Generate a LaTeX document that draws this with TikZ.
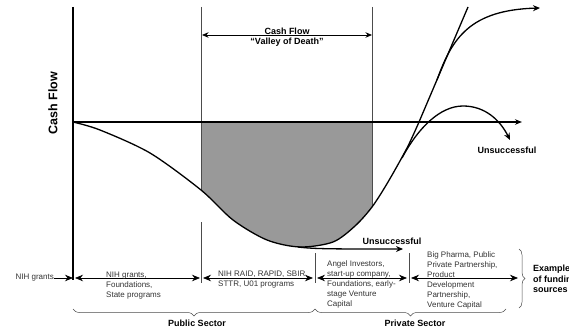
\documentclass[tikz,border=0pt]{standalone}
\usepackage{fontspec}
\setmainfont{Liberation Sans}
\usetikzlibrary{arrows.meta,decorations.pathreplacing}
\definecolor{valleygray}{gray}{0.6}
\begin{document}
\begin{tikzpicture}[x=1pt,y=-1pt,
  axis/.style={line width=1.3pt},
  curvestyle/.style={line width=1.3pt},
  guide/.style={line width=0.5pt,black!70},
  bigtip/.tip={Stealth[length=8pt,width=6.5pt]},
  fundarrow/.style={line width=0.8pt,bigtip-bigtip},
  onearrow/.style={line width=0.8pt,-bigtip},
  curvearrow/.style={line width=1.3pt,-{Stealth[length=7pt,width=6pt]}},
  smalltext/.style={font=\fontsize{8}{9.8}\selectfont,text=black!80,align=left,inner sep=0pt,anchor=north west},
  boldlabel/.style={font=\fontsize{9}{10.5}\selectfont\bfseries,inner sep=0pt},
  bracestyle/.style={line width=0.5pt,black!70,decorate}
]
\useasboundingbox (0,0) rectangle (569,331);

% coordinates
\coordinate (O) at (73,122);
\coordinate (ytop) at (73,7);
\coordinate (ybot) at (73,280);
\coordinate (xend) at (522,122);

% grey valley
\begin{scope}
  \clip (201,122) rectangle (372,300);
  \fill[valleygray] plot[smooth] coordinates {(73,122) (100,130) (150,153) (201,190) (233,220) (267,240) (300,247) (333,242) (355,226) (372,207) (388,182) (407,148) (419,122)} -- cycle;
\end{scope}

% valley guide lines
\coordinate (gl1) at (201,7);
\coordinate (gl2) at (201,190);
\coordinate (gr1) at (372,7);
\coordinate (gr2) at (372,207);
\draw[guide] (gl1) -- (gl2);
\draw[guide] (gr1) -- (gr2);

% axes
\draw[axis] (ytop) -- (ybot);
\draw[axis,-{Stealth[length=7pt,width=5.5pt]}] (O) -- (xend);

\node[rotate=90,font=\fontsize{12.5}{14}\selectfont\bfseries] (cf) at (53,103) {Cash Flow};

% valley of death arrow
\coordinate (va) at (202,35);
\coordinate (vb) at (372,35);
\draw[line width=0.8pt,{Stealth[length=6.5pt,width=5.5pt]}-{Stealth[length=6.5pt,width=5.5pt]}] (va) -- (vb);
\node[boldlabel,align=center,anchor=north] (vod) at (287,27.5) {Cash Flow\\``Valley of Death''};

% main curve
\draw[curvestyle] plot[smooth] coordinates {(73,122) (100,130) (150,153) (201,190) (233,220) (267,240) (300,247) (333,242) (355,226) (372,207) (388,182) (407,148) (419,122)} -- (468,7);

% branches
\coordinate (s0) at (437,80);
\coordinate (s1) at (540,8);
\draw[curvearrow] (s0) .. controls (452,38) and (470,10) .. (s1);

\coordinate (u0) at (402,158);
\coordinate (upk) at (463,106);
\coordinate (u1) at (510,140);
\draw[curvearrow] (u0) .. controls (418,128) and (440,106) .. (upk) .. controls (485,106) and (500,120) .. (u1);
\node[boldlabel] (uns1) at (507,150) {Unsuccessful};

\coordinate (l0) at (298,247);
\coordinate (l1) at (403,249);
\draw[curvearrow] (l0) .. controls (315,249) and (330,249) .. (l1);
\node[boldlabel] (uns2) at (392,241) {Unsuccessful};

% funding row
\node[font=\fontsize{8}{9.8}\selectfont,text=black!80,inner sep=0pt,anchor=east] (nih) at (54,278) {NIH grants};
\coordinate (nihend) at (73,278);
\draw[onearrow] (nih) -- (nihend);

\coordinate (a1) at (75,278);  \coordinate (b1) at (200,278);
\coordinate (a2) at (203,278); \coordinate (b2) at (313,278);
\coordinate (a3) at (317,278); \coordinate (b3) at (407,278);
\coordinate (a4) at (411,278); \coordinate (b4) at (518,278);
\draw[fundarrow] (a1) -- (b1);
\draw[fundarrow] (a2) -- (b2);
\draw[fundarrow] (a3) -- (b3);
\draw[fundarrow] (a4) -- (b4);

% separators
\coordinate (p1) at (201,222); \coordinate (q1) at (201,283);
\coordinate (p2) at (315,253); \coordinate (q2) at (315,283);
\coordinate (p3) at (409,253); \coordinate (q3) at (409,283);
\draw[guide] (p1) -- (q1);
\draw[guide] (p2) -- (q2);
\draw[guide] (p3) -- (q3);

\node[smalltext] (t1) at (106,272) {NIH grants,\\Foundations,\\State programs};
\node[smalltext] (t2) at (218,271) {NIH RAID, RAPID, SBIR,\\STTR, U01 programs};
\node[smalltext] (t3) at (327,261) {Angel Investors,\\start-up company,\\Foundations, early-\\stage Venture\\Capital};
\node[smalltext] (t4) at (427,252) {Big Pharma, Public\\Private Partnership,\\Product\\Development\\Partnership,\\Venture Capital};

% braces
\coordinate (pubR) at (315,309); \coordinate (pubL) at (73,309);
\coordinate (priR) at (506,309); \coordinate (priL) at (315,309);
\draw[bracestyle,decoration={brace,amplitude=7pt}] (pubR) -- (pubL);
\draw[bracestyle,decoration={brace,amplitude=7pt}] (priR) -- (priL);
\node[boldlabel] (pub) at (197,323) {Public Sector};
\node[boldlabel] (pri) at (415,323) {Private Sector};

\coordinate (exT) at (519,249); \coordinate (exB) at (519,308);
\draw[bracestyle,decoration={brace,amplitude=6pt}] (exT) -- (exB);
\node[boldlabel,align=left,anchor=north west] (ex) at (533,265) {Examples\\of funding\\sources};
\end{tikzpicture}
\end{document}
